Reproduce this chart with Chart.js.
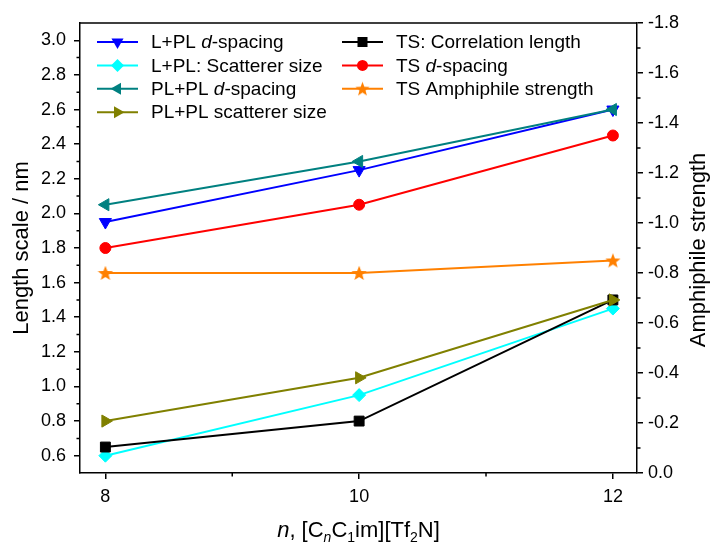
<!DOCTYPE html>
<html>
<head>
<meta charset="utf-8">
<script src="https://cdn.jsdelivr.net/npm/chart.js@4.4.1/dist/chart.umd.min.js"></script>
<style>
  html, body { margin: 0; padding: 0; background: #fff; }
  #wrap { width: 711px; height: 545px; }
</style>
</head>
<body>
<div id="wrap"><canvas id="myChart" width="711" height="545"></canvas></div>
<script>
// values
var nValues = [8, 10, 12];
var lplDSpacing = [1.95, 2.25, 2.6];
var lplScatterer = [0.6, 0.95, 1.45];
var plplDSpacing = [2.05, 2.3, 2.6];
var plplScatterer = [0.8, 1.05, 1.5];
var tsCorrelation = [0.65, 0.8, 1.5];
var tsDSpacing = [1.8, 2.05, 2.45];
var tsAmphiphile = [-0.8, -0.8, -0.85];   // right axis

// tick labels
var xTicks = [8, 10, 12];
var xMinor = [9, 11];
var leftTicks = [0.6, 0.8, 1.0, 1.2, 1.4, 1.6, 1.8, 2.0, 2.2, 2.4, 2.6, 2.8, 3.0];
var leftMinor = [0.7, 0.9, 1.1, 1.3, 1.5, 1.7, 1.9, 2.1, 2.3, 2.5, 2.7, 2.9];
var rightTicks = [0, -0.2, -0.4, -0.6, -0.8, -1.0, -1.2, -1.4, -1.6, -1.8];
var rightMinor = [-0.1, -0.3, -0.5, -0.7, -0.9, -1.1, -1.3, -1.5, -1.7];

var FONT = '"Liberation Sans", Arial, sans-serif';

function toPoints(ys) {
    return nValues.map(function (n, i) { return { x: n, y: ys[i] }; });
}

// filled 5 point star, Chart.js has no such point style
function makeStar(size, color) {
    var c = document.createElement('canvas');
    c.width = size; c.height = size;
    var g = c.getContext('2d');
    var R = size * 0.5, r = R * 0.42, cx = size / 2, cy = size * 0.54;
    g.beginPath();
    for (var k = 0; k < 10; k++) {
        var a = -Math.PI / 2 + k * Math.PI / 5;
        var rr = (k % 2) ? r : R;
        g.lineTo(cx + rr * Math.cos(a), cy + rr * Math.sin(a));
    }
    g.closePath();
    g.fillStyle = color;
    g.fill();
    return c;
}
var star = makeStar(16, '#ff8000');
var starSmall = makeStar(15, '#ff8000');

function series(label, data, color, style, rot, radius, axis) {
    return {
        label: label,
        data: toPoints(data),
        yAxisID: axis || 'y',
        borderColor: color,
        backgroundColor: color,
        borderWidth: 2,
        pointStyle: style,
        pointRotation: rot,
        pointRadius: radius,
        pointHoverRadius: radius,
        pointBorderWidth: 1,
        tension: 0
    };
}

// legend entries: text parts [text, italic]
var legendItems = [
    { col: 0, row: 0, parts: [['L+PL ', 0], ['d', 1], ['-spacing', 0]], color: '#0000ff', mark: 'triangle', rot: 180, r: 7 },
    { col: 0, row: 1, parts: [['L+PL: Scatterer size', 0]], color: '#00ffff', mark: 'rectRot', rot: 0, r: 6.5 },
    { col: 0, row: 2, parts: [['PL+PL ', 0], ['d', 1], ['-spacing', 0]], color: '#008080', mark: 'triangle', rot: 270, r: 7 },
    { col: 0, row: 3, parts: [['PL+PL scatterer size', 0]], color: '#808000', mark: 'triangle', rot: 90, r: 7 },
    { col: 1, row: 0, parts: [['TS: Correlation length', 0]], color: '#000000', mark: 'rect', rot: 0, r: 5 },
    { col: 1, row: 1, parts: [['TS ', 0], ['d', 1], ['-spacing', 0]], color: '#ff0000', mark: 'circle', rot: 0, r: 5.5 },
    { col: 1, row: 2, parts: [['TS Amphiphile strength', 0]], color: '#ff8000', mark: 'star', rot: 0, r: 7 }
];

function drawMark(ctx, it, x, y) {
    ctx.save();
    ctx.fillStyle = it.color;
    ctx.translate(x, y);
    ctx.rotate(it.rot * Math.PI / 180);
    var r = it.r;
    ctx.beginPath();
    if (it.mark === 'triangle') {
        ctx.moveTo(0, -r);
        ctx.lineTo(r * Math.cos(Math.PI / 6), r * 0.5);
        ctx.lineTo(-r * Math.cos(Math.PI / 6), r * 0.5);
        ctx.closePath();
        ctx.fill();
    } else if (it.mark === 'rectRot') {
        ctx.moveTo(0, -r); ctx.lineTo(r, 0); ctx.lineTo(0, r); ctx.lineTo(-r, 0);
        ctx.closePath();
        ctx.fill();
    } else if (it.mark === 'rect') {
        ctx.fillRect(-r, -r, 2 * r, 2 * r);
    } else if (it.mark === 'circle') {
        ctx.arc(0, 0, r, 0, Math.PI * 2);
        ctx.fill();
    } else if (it.mark === 'star') {
        ctx.drawImage(starSmall, -starSmall.width / 2, -starSmall.height / 2);
    }
    ctx.restore();
}

var legendPlugin = {
    id: 'insideLegend',
    afterDraw: function (chart) {
        var ctx = chart.ctx;
        var colX = [97, 342];
        ctx.save();
        legendItems.forEach(function (it) {
            var x0 = colX[it.col];
            var y = 42 + it.row * 23.4;
            ctx.strokeStyle = it.color;
            ctx.lineWidth = 2;
            ctx.beginPath();
            ctx.moveTo(x0, y); ctx.lineTo(x0 + 41, y);
            ctx.stroke();
            drawMark(ctx, it, x0 + 20.5, y);
            var tx = x0 + 54;
            ctx.fillStyle = '#000';
            ctx.textBaseline = 'middle';
            it.parts.forEach(function (p) {
                ctx.font = (p[1] ? 'italic ' : '') + '19px ' + FONT;
                ctx.fillText(p[0], tx, y + 1);
                tx += ctx.measureText(p[0]).width;
            });
        });
        ctx.restore();
    }
};

var framePlugin = {
    id: 'frame',
    afterDraw: function (chart) {
        var ctx = chart.ctx, a = chart.chartArea;
        var sx = chart.scales.x, sy = chart.scales.y, sy2 = chart.scales.y2;
        ctx.save();
        ctx.strokeStyle = '#000';
        ctx.lineWidth = 1.5;
        ctx.beginPath();
        ctx.moveTo(a.left, a.top); ctx.lineTo(a.right, a.top);
        xMinor.forEach(function (v) {
            var px = sx.getPixelForValue(v);
            ctx.moveTo(px, a.bottom); ctx.lineTo(px, a.bottom + 3.5);
        });
        leftMinor.forEach(function (v) {
            var py = sy.getPixelForValue(v);
            ctx.moveTo(a.left, py); ctx.lineTo(a.left - 3.5, py);
        });
        rightMinor.forEach(function (v) {
            var py = sy2.getPixelForValue(v);
            ctx.moveTo(a.right, py); ctx.lineTo(a.right + 3.5, py);
        });
        ctx.stroke();

        // axis titles
        ctx.fillStyle = '#000';
        ctx.font = '22px ' + FONT;
        ctx.textAlign = 'center';
        ctx.textBaseline = 'middle';
        ctx.save();
        ctx.translate(22, (a.top + a.bottom) / 2);
        ctx.rotate(-Math.PI / 2);
        ctx.fillText('Length scale / nm', 0, 0);
        ctx.restore();
        ctx.save();
        ctx.translate(699, (a.top + a.bottom) / 2 + 2);
        ctx.rotate(-Math.PI / 2);
        ctx.fillText('Amphiphile strength', 0, 0);
        ctx.restore();

        // x title with subscripts
        var parts = [
            ['n', 1, 0], [', [C', 0, 0], ['n', 1, 1], ['C', 0, 0], ['1', 0, 1],
            ['im][Tf', 0, 0], ['2', 0, 1], ['N]', 0, 0]
        ];
        var widths = parts.map(function (p) {
            ctx.font = (p[1] ? 'italic ' : '') + (p[2] ? '14px ' : '22px ') + FONT;
            return ctx.measureText(p[0]).width;
        });
        var total = widths.reduce(function (s, w) { return s + w; }, 0);
        var tx = (a.left + a.right) / 2 - total / 2;
        var base = 537;
        ctx.textAlign = 'left';
        ctx.textBaseline = 'alphabetic';
        parts.forEach(function (p, i) {
            ctx.font = (p[1] ? 'italic ' : '') + (p[2] ? '14px ' : '22px ') + FONT;
            ctx.fillText(p[0], tx, p[2] ? base + 5 : base);
            tx += widths[i];
        });
        ctx.restore();
    }
};

function axisStyle() {
    return {
        ticks: { font: { family: FONT, size: 18 }, color: '#000', padding: 8, autoSkip: false, maxRotation: 0 },
        grid: { drawOnChartArea: false, tickLength: 6, color: '#000', lineWidth: 1.5 },
        border: { color: '#000', width: 1.5 }
    };
}

var xAxis = axisStyle();
xAxis.type = 'linear';
xAxis.position = 'bottom';
xAxis.min = 7.8;
xAxis.max = 12.19;
xAxis.afterBuildTicks = function (s) { s.ticks = xTicks.map(function (v) { return { value: v }; }); };
xAxis.afterFit = function (s) { s.height = 72; };
xAxis.ticks.callback = function (v) { return String(v); };
xAxis.ticks.padding = 7;

var yAxis = axisStyle();
yAxis.position = 'left';
yAxis.min = 0.5;
yAxis.max = 3.1;
yAxis.afterBuildTicks = function (s) { s.ticks = leftTicks.map(function (v) { return { value: v }; }); };
yAxis.afterFit = function (s) { s.width = 80; };
yAxis.ticks.callback = function (v) { return Number(v).toFixed(1); };

var y2Axis = axisStyle();
y2Axis.position = 'right';
y2Axis.min = -1.8;
y2Axis.max = 0;
y2Axis.reverse = true;
y2Axis.afterBuildTicks = function (s) { s.ticks = rightTicks.map(function (v) { return { value: v }; }); };
y2Axis.afterFit = function (s) { s.width = 74; };
y2Axis.ticks.callback = function (v) { return Math.abs(v) < 1e-9 ? '0.0' : Number(v).toFixed(1); };
y2Axis.ticks.padding = 5;

var ctx = document.getElementById('myChart').getContext('2d');
var chart = new Chart(ctx, {
    type: 'line',
    data: {
        datasets: [
            series('PL+PL d-spacing', plplDSpacing, '#008080', 'triangle', 270, 7),
            series('L+PL d-spacing', lplDSpacing, '#0000ff', 'triangle', 180, 7),
            series('TS d-spacing', tsDSpacing, '#ff0000', 'circle', 0, 5.5),
            series('TS Amphiphile strength', tsAmphiphile, '#ff8000', star, 0, 8, 'y2'),
            series('PL+PL scatterer size', plplScatterer, '#808000', 'triangle', 90, 7),
            series('TS: Correlation length', tsCorrelation, '#000000', 'rect', 0, 7),
            series('L+PL: Scatterer size', lplScatterer, '#00ffff', 'rectRot', 0, 6.5)
        ]
    },
    options: {
        responsive: false,
        animation: false,
        layout: { padding: { top: 23, left: 0, right: 0, bottom: 0 } },
        plugins: {
            legend: { display: false },
            tooltip: { enabled: false }
        },
        scales: { x: xAxis, y: yAxis, y2: y2Axis }
    },
    plugins: [framePlugin, legendPlugin]
});
</script>
</body>
</html>
